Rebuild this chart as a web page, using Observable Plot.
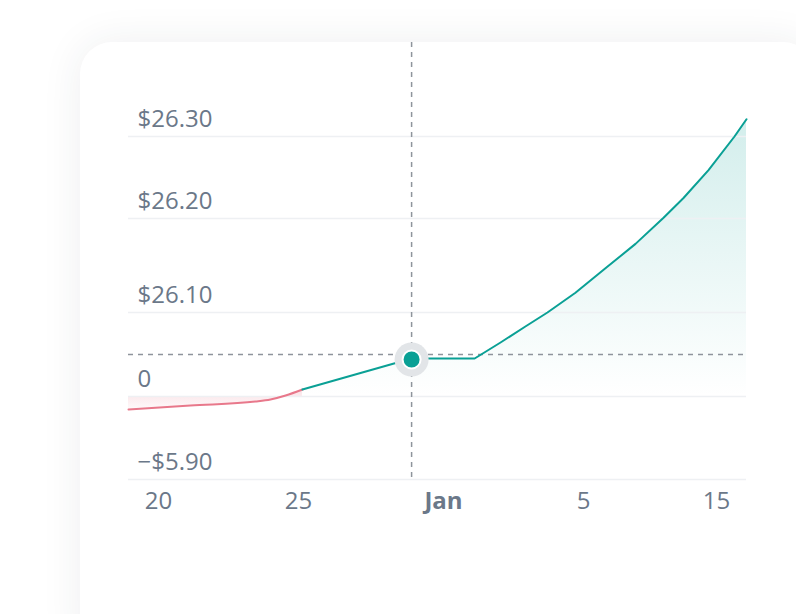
<!DOCTYPE html>
<html><head><meta charset="utf-8">
<script src="https://cdn.jsdelivr.net/npm/d3@7"></script>
<script src="https://cdn.jsdelivr.net/npm/@observablehq/plot@0.6"></script>
<style>
html,body{margin:0;padding:0;background:#fff;width:796px;height:614px;overflow:hidden;}
#card{position:absolute;left:80px;top:42px;width:735px;height:620px;border-radius:32px;background:#fff;box-shadow:0 0 40px rgba(40,50,70,0.08);}
#chart{position:absolute;left:0;top:0;}
</style></head><body>
<div id="card"></div><div id="chart"></div>
<script>
// x: day number counted from Dec 1 (Dec 20 = 20, Jan 1 = 32, Jan 15 = 46)
const xTickDays = [20, 25, 32, 36, 46];
const xTickLabels = ["20", "25", "Jan", "5", "15"];
const xTickBold = [false, false, true, false, false];
const xDomain = [18.93, 20, 25, 32, 36, 46, 48.25];

const yTickValues = [-5.9, 0, 26.1, 26.2, 26.3];
const yTickLabels = ["\u2212$5.90", "0", "$26.10", "$26.20", "$26.30"];

const lossDays   = [18.93, 21.14, 23.46, 24.0, 24.54, 25.19];
const lossValues = [-0.92, -0.64, -0.36, -0.21, 0.31, 2.17];

const gainDays   = [25.19, 30.46, 32.89, 33.63, 34.34, 34.97, 35.77, 37.65, 39.91, 42.02, 43.52, 45.40, 47.35, 48.25];
const gainValues = [2.17, 11.81, 11.81, 16.78, 21.75, 26.1, 26.121, 26.147, 26.173, 26.201, 26.225, 26.259, 26.3, 26.321];

const todayDay = 30.46;
const todayValue = 11.5;
const breakEvenValue = 13.05;

const loss = lossDays.map((d, i) => ({day: d, value: lossValues[i]}));
const gain = gainDays.map((d, i) => ({day: d, value: gainValues[i]}));
const yTicks = yTickValues.map((v, i) => ({value: v, label: yTickLabels[i]}));
const xTicks = xTickDays.map((d, i) => ({day: d, label: xTickLabels[i], bold: xTickBold[i]}));

const teal = "#0aa095";
const pink = "#e8788b";
const labelColor = "#6b7889";
const dashColor = "#8e949c";

const chart = Plot.plot({
  width: 796, height: 614,
  marginLeft: 128, marginRight: 50, marginTop: 42, marginBottom: 135,
  x: {type: "linear", domain: xDomain, range: [128, 158, 298, 443, 583, 716, 746], axis: null},
  y: {type: "linear", domain: yTickValues, range: [479, 396, 312, 218, 136], axis: null},
  style: {fontFamily: "'Open Sans', sans-serif", background: "transparent", overflow: "visible"},
  marks: [
    Plot.areaY(loss, {x: "day", y1: 0, y2: "value", fill: "url(#lossGrad)", curve: "monotone-x"}),
    Plot.areaY(gain, {x: "day", y1: 0, y2: "value", fill: "url(#gainGrad)"}),
    Plot.ruleY(yTicks, {y: "value", stroke: "#eef0f3", strokeWidth: 1.5}),
    Plot.ruleY([breakEvenValue], {stroke: dashColor, strokeWidth: 1.5, strokeDasharray: "5,5"}),
    Plot.ruleX([todayDay], {stroke: dashColor, strokeWidth: 1.5, strokeDasharray: "5,5"}),
    Plot.line(loss, {x: "day", y: "value", stroke: pink, strokeWidth: 2, curve: "monotone-x"}),
    Plot.line(gain, {x: "day", y: "value", stroke: teal, strokeWidth: 2}),
    Plot.dot([{day: todayDay, value: todayValue}], {x: "day", y: "value", r: 17, fill: "#e2e5e8"}),
    Plot.dot([{day: todayDay, value: todayValue}], {x: "day", y: "value", r: 9, fill: teal, stroke: "#fff", strokeWidth: 2}),
    Plot.text(yTicks, {y: "value", text: "label", frameAnchor: "left", textAnchor: "start", lineAnchor: "bottom", dx: 9, dy: -10, fontSize: 24, fill: labelColor}),
    Plot.text(xTicks.filter(d => !d.bold), {x: "day", text: "label", frameAnchor: "bottom", lineAnchor: "middle", dy: 22, fontSize: 24, fill: labelColor}),
    Plot.text(xTicks.filter(d => d.bold), {x: "day", text: "label", frameAnchor: "bottom", lineAnchor: "middle", dy: 22, fontSize: 24, fontWeight: 700, fill: labelColor})
  ]
});

const defs = d3.select(chart).insert("defs", ":first-child");
const g1 = defs.append("linearGradient").attr("id", "gainGrad").attr("x1", 0).attr("y1", 0).attr("x2", 0).attr("y2", 1);
g1.append("stop").attr("offset", "0%").attr("stop-color", teal).attr("stop-opacity", 0.18);
g1.append("stop").attr("offset", "100%").attr("stop-color", teal).attr("stop-opacity", 0.0);
const g2 = defs.append("linearGradient").attr("id", "lossGrad").attr("x1", 0).attr("y1", 0).attr("x2", 0).attr("y2", 1);
g2.append("stop").attr("offset", "0%").attr("stop-color", pink).attr("stop-opacity", 0.22);
g2.append("stop").attr("offset", "100%").attr("stop-color", pink).attr("stop-opacity", 0.04);

document.getElementById("chart").appendChild(chart);
</script>
</body></html>
